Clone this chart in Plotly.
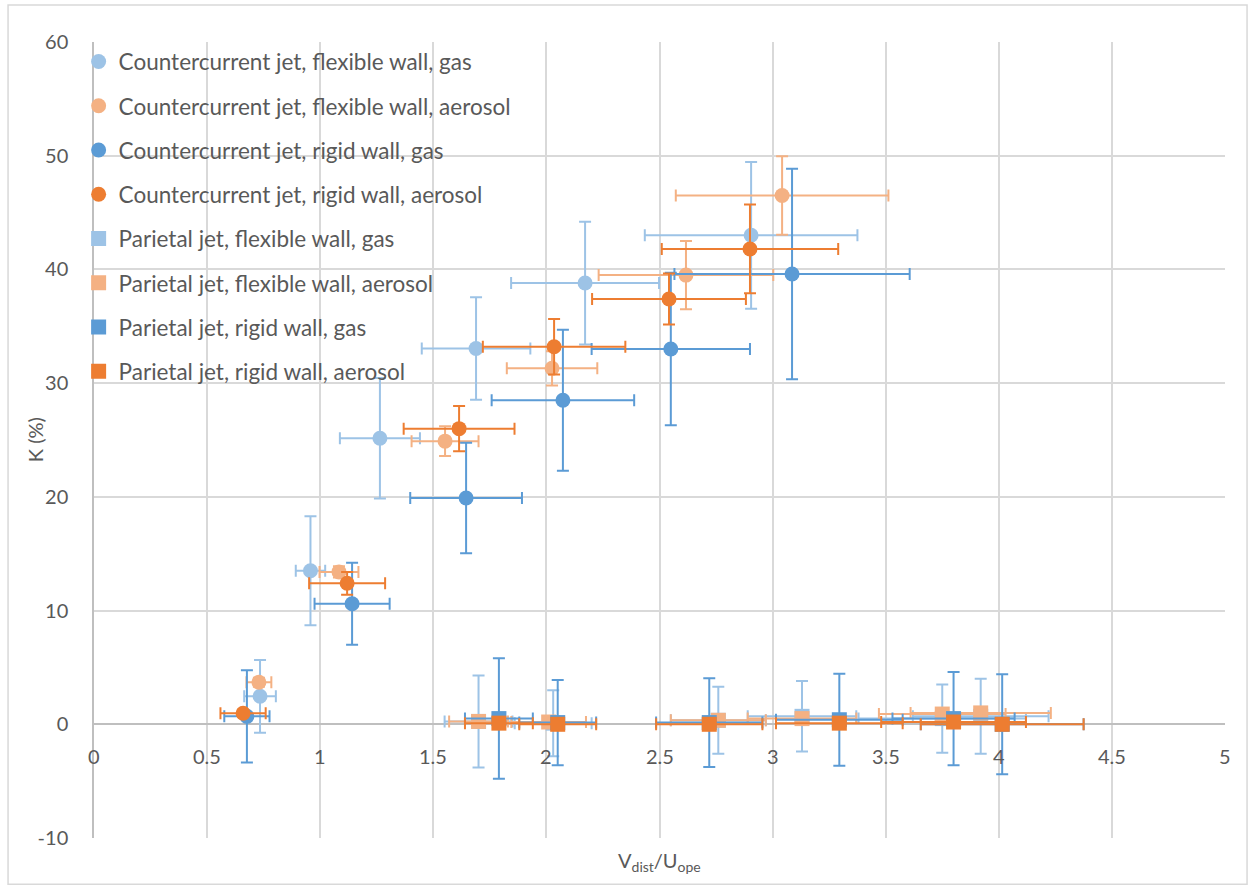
import plotly.graph_objects as go

# ---- data ----
series_names = [
    "Countercurrent jet, flexible wall, gas",
    "Countercurrent jet, flexible wall, aerosol",
    "Countercurrent jet, rigid wall, gas",
    "Countercurrent jet, rigid wall, aerosol",
    "Parietal jet, flexible wall, gas",
    "Parietal jet, flexible wall, aerosol",
    "Parietal jet, rigid wall, gas",
    "Parietal jet, rigid wall, aerosol",
]

cc_flex_gas_x = [0.734, 0.957, 1.264, 1.689, 2.171, 2.905]
cc_flex_gas_y = [2.46, 13.5, 25.15, 33.05, 38.8, 43.0]
cc_flex_gas_ex = [0.07, 0.065, 0.177, 0.24, 0.327, 0.47]
cc_flex_gas_ey = [3.2, 4.8, 5.3, 4.5, 5.4, 6.45]

cc_flex_aer_x = [0.729, 1.083, 1.552, 2.025, 2.617, 3.042]
cc_flex_aer_y = [3.7, 13.4, 24.9, 31.3, 39.5, 46.5]
cc_flex_aer_ex = [0.055, 0.086, 0.148, 0.2, 0.386, 0.47]
cc_flex_aer_ey = [0.4, 0.5, 1.3, 1.5, 3.0, 3.45]

cc_rig_gas_x = [0.676, 1.141, 1.645, 2.073, 2.55, 3.086]
cc_rig_gas_y = [0.7, 10.6, 19.9, 28.5, 33.0, 39.6]
cc_rig_gas_ex = [0.1, 0.166, 0.247, 0.315, 0.35, 0.52]
cc_rig_gas_ey = [4.05, 3.6, 4.85, 6.2, 6.7, 9.25]

cc_rig_aer_x = [0.659, 1.119, 1.614, 2.034, 2.542, 2.9]
cc_rig_aer_y = [0.97, 12.4, 26.0, 33.2, 37.4, 41.8]
cc_rig_aer_ex = [0.1, 0.168, 0.245, 0.315, 0.34, 0.39]
cc_rig_aer_ey = [0.3, 1.0, 2.0, 2.45, 2.25, 3.9]

pa_flex_gas_x = [1.70, 2.03, 2.76, 3.13, 3.75, 3.92]
pa_flex_gas_y = [0.25, 0.1, 0.35, 0.7, 0.5, 0.7]
pa_flex_gas_ex = [0.15, 0.17, 0.21, 0.24, 0.37, 0.30]
pa_flex_gas_ey = [4.05, 2.9, 2.95, 3.1, 3.0, 3.3]

pa_flex_aer_x = [1.70, 2.01, 2.76, 3.13, 3.75, 3.92]
pa_flex_aer_y = [0.25, 0.2, 0.35, 0.5, 0.9, 1.0]
pa_flex_aer_ex = [0.13, 0.165, 0.21, 0.24, 0.28, 0.31]
pa_flex_aer_ey = [0.3, 0.3, 0.3, 0.3, 0.3, 0.3]

pa_rig_gas_x = [1.79, 2.05, 2.72, 3.295, 3.80, 4.015]
pa_rig_gas_y = [0.5, 0.15, 0.15, 0.4, 0.5, 0.0]
pa_rig_gas_ex = [0.15, 0.17, 0.235, 0.28, 0.27, 0.36]
pa_rig_gas_ey = [5.3, 3.75, 3.9, 4.05, 4.1, 4.4]

pa_rig_aer_x = [1.79, 2.05, 2.72, 3.295, 3.80, 4.015]
pa_rig_aer_y = [0.1, 0.0, 0.0, 0.1, 0.2, 0.0]
pa_rig_aer_ex = [0.15, 0.17, 0.235, 0.28, 0.32, 0.36]
pa_rig_aer_ey = [0.3, 0.3, 0.3, 0.3, 0.3, 0.3]

x_tick_vals = [0, 0.5, 1, 1.5, 2, 2.5, 3, 3.5, 4, 4.5, 5]
x_tick_text = ["0", "0.5", "1", "1.5", "2", "2.5", "3", "3.5", "4", "4.5", "5"]
y_tick_vals = [-10, 0, 10, 20, 30, 40, 50, 60]
y_tick_text = ["-10", "0", "10", "20", "30", "40", "50", "60"]

# ---- style ----
LIGHT_BLUE = "#9DC3E6"
LIGHT_ORANGE = "#F4B183"
BLUE = "#5B9BD5"
ORANGE = "#ED7D31"
FONT = "Lato, Carlito, Calibri, sans-serif"
TXT = "#595959"

series = [
    (cc_flex_gas_x, cc_flex_gas_y, cc_flex_gas_ex, cc_flex_gas_ey, LIGHT_BLUE, "circle"),
    (cc_flex_aer_x, cc_flex_aer_y, cc_flex_aer_ex, cc_flex_aer_ey, LIGHT_ORANGE, "circle"),
    (cc_rig_gas_x, cc_rig_gas_y, cc_rig_gas_ex, cc_rig_gas_ey, BLUE, "circle"),
    (cc_rig_aer_x, cc_rig_aer_y, cc_rig_aer_ex, cc_rig_aer_ey, ORANGE, "circle"),
    (pa_flex_gas_x, pa_flex_gas_y, pa_flex_gas_ex, pa_flex_gas_ey, LIGHT_BLUE, "square"),
    (pa_flex_aer_x, pa_flex_aer_y, pa_flex_aer_ex, pa_flex_aer_ey, LIGHT_ORANGE, "square"),
    (pa_rig_gas_x, pa_rig_gas_y, pa_rig_gas_ex, pa_rig_gas_ey, BLUE, "square"),
    (pa_rig_aer_x, pa_rig_aer_y, pa_rig_aer_ex, pa_rig_aer_ey, ORANGE, "square"),
]

fig = go.Figure()
for name, (xs, ys, exs, eys, col, sym) in zip(series_names, series):
    fig.add_trace(go.Scatter(
        x=xs, y=ys, mode="markers", name=name, legendgroup=name,
        marker=dict(color=col, symbol=sym, size=15, line=dict(width=0)),
        error_x=dict(type="data", array=exs, visible=True, color=col, thickness=2, width=6),
        error_y=dict(type="data", array=eys, visible=True, color=col, thickness=2, width=6),
    ))

# x tick labels placed next to the horizontal axis crossing at y=0
for v, t in zip(x_tick_vals, x_tick_text):
    fig.add_annotation(x=v, y=0, xref="x", yref="y", text=t, showarrow=False,
                       yanchor="top", yshift=-18, font=dict(family=FONT, size=20, color=TXT))

# axis titles
fig.add_annotation(x=0.5, y=0.0, xref="paper", yref="paper", yanchor="top", yshift=-8,
                   text="V<sub>dist</sub>/U<sub>ope</sub>", showarrow=False,
                   font=dict(family=FONT, size=20, color=TXT))
fig.add_annotation(x=-0.052, y=0.5, xref="paper", yref="paper", xanchor="center", yanchor="middle",
                   text="K (%)", textangle=-90, showarrow=False,
                   font=dict(family=FONT, size=20, color=TXT))

# chart-area border
fig.add_shape(type="rect", xref="paper", yref="paper",
              x0=-0.076, x1=1.0195, y0=-0.058, y1=1.0465,
              line=dict(color="#D9D9D9", width=1.5), fillcolor="rgba(0,0,0,0)", layer="below")

fig.update_layout(
    width=1249, height=886,
    margin=dict(l=94, r=24, t=42, b=48),
    paper_bgcolor="white", plot_bgcolor="white",
    font=dict(family=FONT, size=20, color=TXT),
    showlegend=True,
    legend=dict(x=-0.0136, y=1.002, xanchor="left", yanchor="top",
                bgcolor="rgba(0,0,0,0)", traceorder="grouped", tracegroupgap=12,
                font=dict(family=FONT, size=22.5, color=TXT)),
    xaxis=dict(range=[0, 5], tickvals=x_tick_vals, showticklabels=False,
               showgrid=True, gridcolor="#D9D9D9", gridwidth=1.5, automargin=False,
               zeroline=False, showline=False, ticks=""),
    yaxis=dict(range=[-10, 60], tickvals=y_tick_vals, ticktext=y_tick_text, automargin=False,
               showgrid=True, gridcolor="#D9D9D9", gridwidth=1.5,
               zeroline=True, zerolinecolor="#BFBFBF", zerolinewidth=1.5,
               showline=True, linecolor="#BFBFBF", linewidth=1.5,
               ticks="", ticklabelstandoff=20,
               tickfont=dict(family=FONT, size=20, color=TXT)),
)

fig.write_html("out.html", config={"displayModeBar": False},
               post_script="document.body.style.margin='0';")
